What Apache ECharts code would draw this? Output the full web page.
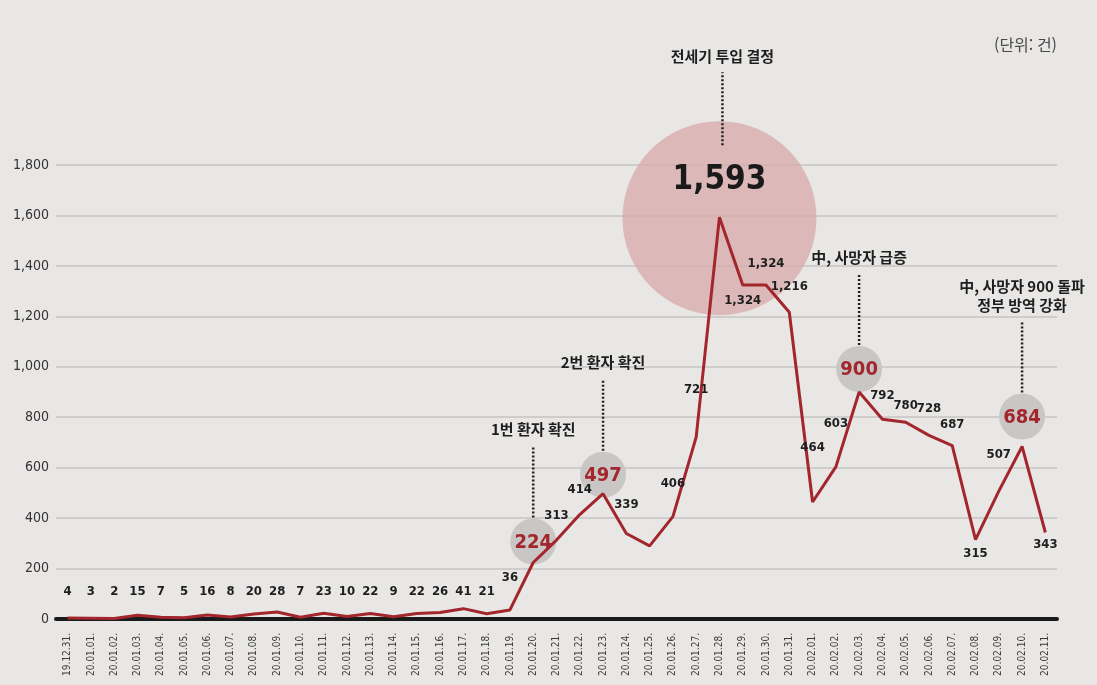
<!DOCTYPE html>
<html lang="ko">
<head>
    <meta charset="UTF-8">
    <title>신종 코로나 관련 일별 건수</title>
    <script src="https://cdn.jsdelivr.net/npm/echarts@6/dist/echarts.min.js"></script>
    <style>
        html, body { margin: 0; padding: 0; background-color: #e8e7e5; }
        #chart { width: 1097px; height: 685px; }
    </style>
</head>
<body>
    <div id="chart"></div>

    <script>
        // data
        const dates = [
            '19.12.31.',
            '20.01.01.', '20.01.02.', '20.01.03.', '20.01.04.', '20.01.05.', '20.01.06.', '20.01.07.',
            '20.01.08.', '20.01.09.', '20.01.10.', '20.01.11.', '20.01.12.', '20.01.13.', '20.01.14.',
            '20.01.15.', '20.01.16.', '20.01.17.', '20.01.18.', '20.01.19.', '20.01.20.', '20.01.21.',
            '20.01.22.', '20.01.23.', '20.01.24.', '20.01.25.', '20.01.26.', '20.01.27.', '20.01.28.',
            '20.01.29.', '20.01.30.', '20.01.31.',
            '20.02.01.', '20.02.02.', '20.02.03.', '20.02.04.', '20.02.05.', '20.02.06.', '20.02.07.',
            '20.02.08.', '20.02.09.', '20.02.10.', '20.02.11.'
        ];
        const counts = [
            4, 3, 2, 15, 7, 5, 16, 8, 20, 28, 7, 23, 10, 22, 9, 22, 26, 41, 21, 36,
            224, 313, 414, 497, 339, 290, 406, 721, 1593, 1324, 1324, 1216,
            464, 603, 900, 792, 780, 728, 687, 315, 507, 684, 343
        ];
        const yTicks = [0, 200, 400, 600, 800, 1000, 1200, 1400, 1600, 1800];
        const unitText = '(단위: 건)';

        const eventDates = ['20.01.20.', '20.01.23.', '20.02.03.', '20.02.10.'];
        const eventTexts = ['1번 환자 확진', '2번 환자 확진', '中, 사망자 급증', '中, 사망자 900 돌파\n정부 방역 강화'];
        const peakDate = '20.01.28.';
        const peakText = '전세기 투입 결정';
        const unlabeledDates = ['20.01.25.'];

        // styling
        const NARROW = "'Liberation Sans Narrow', 'DejaVu Sans Condensed', 'Noto Sans CJK KR', sans-serif";
        const KOR = "'Noto Sans CJK KR', sans-serif";
        const RED = '#a3262c';
        const GRID = { left: 56, right: 40, top: 165, bottom: 66 };
        const pxPerUnit = (685 - GRID.top - GRID.bottom) / yTicks[yTicks.length - 1];

        // label gaps above (or below) the line
        const labelGap = {
            '20.01.19.': 25, '20.01.21.': 17, '20.01.22.': 18, '20.01.24.': 22, '20.01.26.': 26,
            '20.01.27.': 41, '20.01.30.': 14, '20.01.31.': 19, '20.02.01.': 47, '20.02.02.': 36,
            '20.02.04.': 17, '20.02.05.': 10, '20.02.06.': 20, '20.02.07.': 14, '20.02.09.': 29
        };
        const labelBelow = { '20.01.29.': 9, '20.02.08.': 7, '20.02.11.': 5 };
        const labelShiftX = { '20.01.27.': -5, '20.01.31.': 2 };
        const circleLift = [21, 19, 23, 30];

        const fmt = v => v.toLocaleString('en-US');

        const seriesData = counts.map((v, i) => {
            const d = dates[i];
            const label = { show: true };
            if (eventDates.includes(d) || d === peakDate || unlabeledDates.includes(d)) {
                label.show = false;
            } else if (labelBelow[d] !== undefined) {
                label.position = 'bottom';
                label.distance = labelBelow[d];
            } else if (labelGap[d] !== undefined) {
                label.position = 'top';
                label.distance = labelGap[d];
            } else {
                // early small values sit on one row
                label.position = 'top';
                label.distance = Math.max(2, 20.5 - v * pxPerUnit);
            }
            if (labelShiftX[d]) label.offset = [labelShiftX[d], 0];
            return { value: v, label: label };
        });

        const chart = echarts.init(document.getElementById('chart'));

        const option = {
            backgroundColor: '#e8e7e5',
            animation: false,
            grid: GRID,
            xAxis: {
                type: 'category',
                data: dates,
                boundaryGap: true,
                axisLine: { lineStyle: { color: '#1a1a1a', width: 4 } },
                axisTick: { show: false },
                axisLabel: {
                    rotate: 90,
                    interval: 0,
                    fontSize: 10,
                    color: '#3a3a3a',
                    margin: 14,
                    fontFamily: NARROW
                }
            },
            yAxis: {
                type: 'value',
                min: yTicks[0],
                max: yTicks[yTicks.length - 1],
                interval: 200,
                axisLine: { show: false },
                axisTick: { show: false },
                splitLine: { lineStyle: { color: '#c6c5c3', width: 1.5 } },
                axisLabel: {
                    fontSize: 14,
                    color: '#333',
                    margin: 7,
                    fontFamily: NARROW,
                    formatter: v => fmt(v)
                }
            },
            series: [{
                type: 'line',
                data: seriesData,
                symbol: 'circle',
                symbolSize: 1,
                showSymbol: true,
                showAllSymbol: true,
                itemStyle: { color: 'rgba(0,0,0,0)' },
                z: 5,
                lineStyle: { color: RED, width: 3 },
                label: {
                    fontSize: 13,
                    fontWeight: 'bold',
                    color: '#1e1e1e',
                    fontFamily: NARROW,
                    formatter: p => fmt(p.value)
                },
                labelLayout: { hideOverlap: false }
            }]
        };

        chart.setOption(option);

        // annotations placed from the data points
        const graphics = [];
        const px = (d) => chart.convertToPixel({ gridIndex: 0 }, [d, counts[dates.indexOf(d)]]);

        graphics.push({
            type: 'text', right: 40, top: 37, z: 10,
            style: { text: unitText, fill: '#4a4a4a', font: '16px ' + KOR }
        });

        // peak
        const pk = px(peakDate);
        graphics.push({
            type: 'circle', z: 1, shape: { cx: pk[0], cy: pk[1] + 1, r: 97 },
            style: { fill: 'rgba(216, 172, 173, 0.8)' }
        });
        graphics.push({
            type: 'text', z: 10, x: pk[0], y: pk[1] - 37,
            style: {
                text: fmt(counts[dates.indexOf(peakDate)]), fill: '#1a1a1a',
                font: 'bold 33px ' + NARROW, align: 'center', verticalAlign: 'middle'
            }
        });
        graphics.push({
            type: 'line', z: 10, shape: { x1: pk[0] + 3, y1: pk[1] - 72, x2: pk[0] + 3, y2: pk[1] - 145 },
            style: { stroke: '#222', lineWidth: 2.5, lineDash: [2, 2] }
        });
        graphics.push({
            type: 'text', z: 10, x: pk[0] + 3, y: pk[1] - 161,
            style: {
                text: peakText, fill: '#1e1e1e', font: 'bold 15px ' + KOR,
                align: 'center', verticalAlign: 'middle'
            }
        });

        // event circles
        eventDates.forEach((d, k) => {
            const p = px(d);
            const cy = p[1] - circleLift[k];
            const r = 23;
            const lines = eventTexts[k].split('\n').length;
            graphics.push({
                type: 'circle', z: 1, shape: { cx: p[0], cy: cy, r: r },
                style: { fill: '#c8c7c6' }
            });
            graphics.push({
                type: 'text', z: 3, x: p[0], y: cy + 1,
                style: {
                    text: fmt(counts[dates.indexOf(d)]), fill: RED,
                    font: 'bold 20px ' + NARROW, align: 'center', verticalAlign: 'middle'
                }
            });
            const top = cy - r - 1;
            const dotTop = top - 72;
            graphics.push({
                type: 'line', z: 10, shape: { x1: p[0], y1: top, x2: p[0], y2: dotTop },
                style: { stroke: '#222', lineWidth: 2.5, lineDash: [2, 2] }
            });
            graphics.push({
                type: 'text', z: 10, x: p[0], y: dotTop - 16 - (lines - 1) * 9,
                style: {
                    text: eventTexts[k], fill: '#1e1e1e', font: 'bold 15px ' + KOR,
                    align: 'center', verticalAlign: 'middle', lineHeight: 19
                }
            });
        });

        chart.setOption({ graphic: graphics });
    </script>
</body>
</html>
